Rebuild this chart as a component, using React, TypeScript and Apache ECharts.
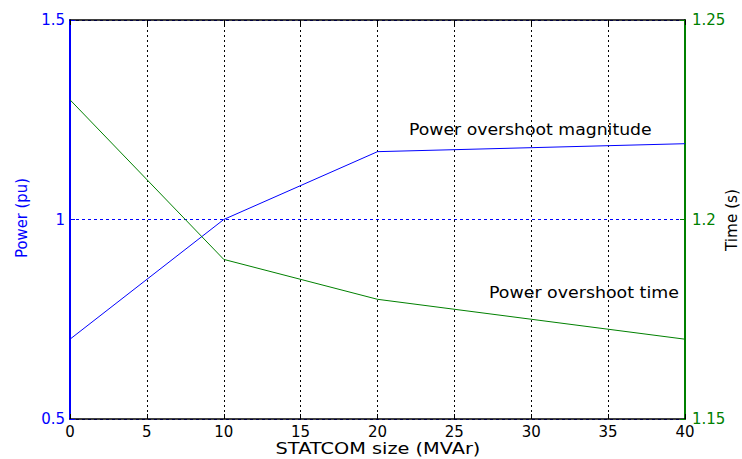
import React, { useEffect, useRef } from "react";
import * as echarts from "echarts";

const statcomSize = [0, 10, 20, 30, 40];
const powerOvershoot = [0.7, 1.0, 1.17, 1.18, 1.19];
const overshootTime = [1.23, 1.19, 1.18, 1.175, 1.17];

const xTitle = "STATCOM size (MVAr)";
const leftTitle = "Power (pu)";
const rightTitle = "Time (s)";
const magnitudeNote = "Power overshoot magnitude";
const timeNote = "Power overshoot time";

const FONT = "DejaVu Sans, sans-serif";

function fitScale(text: string, size: number, target: number): number {
  try {
    const c = document.createElement("canvas").getContext("2d");
    if (!c) return 1;
    c.font = `${size}px ${FONT}`;
    const w = c.measureText(text).width;
    return w > 0 ? target / w : 1;
  } catch (e) {
    return 1;
  }
}

export default function App() {
  const ref = useRef<HTMLDivElement>(null);
  useEffect(() => {
    if (!ref.current) return;
    const chart = echarts.init(ref.current, undefined, { renderer: "svg" });
    const txt = (
      text: string,
      x: number,
      y: number,
      width: number,
      color: string,
      rotation = 0,
      align = "center"
    ) => ({
      type: "text",
      x,
      y,
      rotation,
      scaleX: fitScale(text, 15, width),
      z: 10,
      style: {
        text,
        fill: color,
        fontSize: 15,
        fontFamily: FONT,
        textAlign: align,
        textVerticalAlign: "middle",
      },
    });
    chart.setOption({
      animation: false,
      backgroundColor: "#ffffff",
      textStyle: { fontFamily: FONT },
      grid: { left: 70, right: 57, top: 20, bottom: 40, containLabel: false, outerBoundsMode: "none" },
      xAxis: [
        {
          type: "value",
          min: 0,
          max: 40,
          interval: 5,
          position: "bottom",
          axisLine: { onZero: false, lineStyle: { color: "#000", width: 1.5 } },
          axisTick: { inside: true, length: 5, lineStyle: { color: "#000" } },
          axisLabel: { color: "#000", fontSize: 15, fontFamily: FONT, margin: 5 },
          splitLine: { show: true, lineStyle: { color: "#000", type: [2, 3], width: 1 } },
        },
        {
          type: "value",
          min: 0,
          max: 40,
          interval: 5,
          position: "top",
          axisLine: { show: true, onZero: false, lineStyle: { color: "#000", width: 1.5 } },
          axisTick: { inside: true, length: 5, lineStyle: { color: "#000" } },
          axisLabel: { show: false },
          splitLine: { show: false },
        },
      ],
      yAxis: [
        {
          type: "value",
          min: 0.5,
          max: 1.5,
          interval: 0.5,
          position: "left",
          axisLine: { show: true, onZero: false, lineStyle: { color: "#0000ff", width: 2 } },
          axisTick: { show: true, inside: true, length: 5, lineStyle: { color: "#0000ff" } },
          axisLabel: { color: "#0000ff", fontSize: 15, fontFamily: FONT, margin: 5 },
          splitLine: { show: true, lineStyle: { color: "#0000ff", type: [3, 3], width: 1 } },
        },
        {
          type: "value",
          min: 1.15,
          max: 1.25,
          interval: 0.05,
          position: "right",
          axisLine: { show: true, onZero: false, lineStyle: { color: "#008000", width: 2 } },
          axisTick: { show: true, inside: true, length: 5, lineStyle: { color: "#008000" } },
          axisLabel: {
            color: "#008000",
            fontSize: 15,
            fontFamily: FONT,
            margin: 7,
            formatter: (v: number) => (Math.abs(v - 1.2) < 1e-9 ? "1.2" : v.toFixed(2)),
          },
          splitLine: { show: false },
        },
      ],
      series: [
        {
          type: "line",
          xAxisIndex: 0,
          yAxisIndex: 0,
          data: statcomSize.map((x, i) => [x, powerOvershoot[i]]),
          showSymbol: false,
          lineStyle: { color: "#0000ff", width: 1 },
          z: 5,
        },
        {
          type: "line",
          xAxisIndex: 0,
          yAxisIndex: 1,
          data: statcomSize.map((x, i) => [x, overshootTime[i]]),
          showSymbol: false,
          lineStyle: { color: "#008000", width: 1 },
          z: 5,
        },
      ],
      graphic: [
        txt(xTitle, 378, 449, 205, "#000"),
        txt(leftTitle, 22, 218, 80, "#0000ff", Math.PI / 2),
        txt(rightTitle, 732, 220, 62, "#000", Math.PI / 2),
        txt(magnitudeNote, 409, 130, 243, "#000", 0, "left"),
        txt(timeNote, 489, 293, 190, "#000", 0, "left"),
      ],
    });
    return () => chart.dispose();
  }, []);
  return <div ref={ref} style={{ width: 742, height: 459, position: "absolute", left: 0, top: 0 }} />;
}
